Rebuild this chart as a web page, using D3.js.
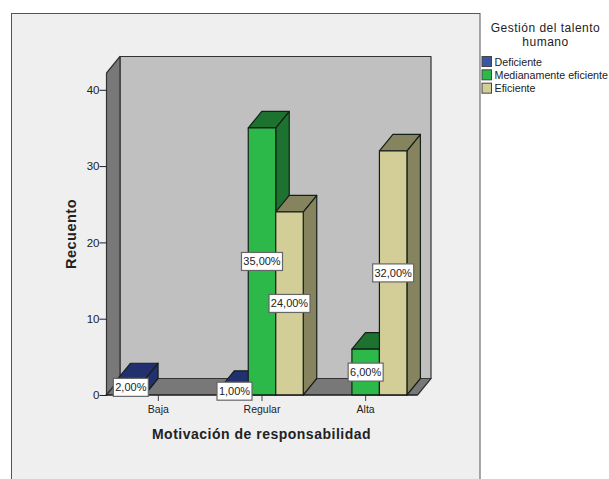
<!DOCTYPE html>
<html>
<head>
<meta charset="utf-8">
<script src="https://cdn.jsdelivr.net/npm/d3@7"></script>
<style>
    html, body { margin: 0; padding: 0; background: #fff; overflow: hidden; }
    svg { display: block; }
    text { font-family: "Liberation Sans", Arial, sans-serif; fill: #222; }
</style>
</head>
<body>
<div id="chart"></div>
<script>
const categories = ["Baja", "Regular", "Alta"];
const seriesNames = ["Deficiente", "Medianamente eficiente", "Eficiente"];
const deficiente = [2, 1, 0];
const medianamente = [0, 35, 6];
const eficiente = [0, 24, 32];
const seriesValues = [deficiente, medianamente, eficiente];
const yTicks = [0, 10, 20, 30, 40];

const frontColors = ["#2f4b9c", "#2db84a", "#d3ce97"];
const topColors = ["#22306f", "#1c722e", "#86835f"];
const sideColors = ["#22306f", "#1c722e", "#86835f"];
const legendColors = ["#3a55a6", "#2db84a", "#d3ce97"];

const wSvg = 609;
const hSvg = 479;

// plot box, depth is the offset of the back wall
const plot = { left: 106.5, right: 417.5, bottom: 395, top: 73 };
const depth = { x: 13.5, y: -16.5 };
const barWidth = 27.5;

const svg = d3.select("#chart").append("svg")
    .attr("width", wSvg)
    .attr("height", hSvg);

const yScale = d3.scaleLinear()
    .domain([0, 42.2])
    .range([plot.bottom, plot.top]);

const xScale = d3.scaleBand()
    .domain(categories)
    .range([plot.left, plot.right]);

const seriesScale = d3.scaleBand()
    .domain(seriesNames)
    .range([-barWidth * 1.5, barWidth * 1.5]);

const line = pts => "M" + pts.map(p => p.join(",")).join("L") + "Z";
const back = (x, y) => [x + depth.x, y + depth.y];

// outer panel
svg.append("rect")
    .attr("x", 11.5)
    .attr("y", 13.5)
    .attr("width", 468.5)
    .attr("height", 480)
    .attr("fill", "#efefef")
    .attr("stroke", "#555")
    .attr("stroke-width", 1);

// walls and floor
const walls = svg.append("g").attr("stroke", "#333").attr("stroke-width", 1.2).attr("stroke-linejoin", "round");

walls.append("path")
    .attr("d", line([back(plot.left, plot.top), back(plot.right, plot.top), back(plot.right, plot.bottom), back(plot.left, plot.bottom)]))
    .attr("fill", "#c0c0c0");

walls.append("path")
    .attr("d", line([[plot.left, plot.top], back(plot.left, plot.top), back(plot.left, plot.bottom), [plot.left, plot.bottom]]))
    .attr("fill", "#787878");

walls.append("path")
    .attr("d", line([[plot.left, plot.bottom], [plot.right, plot.bottom], back(plot.right, plot.bottom), back(plot.left, plot.bottom)]))
    .attr("fill", "#787878");

// bars, left to right so each front face covers the side of its neighbour
const bars = [];
categories.forEach((cat, c) => {
    seriesNames.forEach((name, s) => {
        const value = seriesValues[s][c];
        if (value > 0) {
            bars.push({ cat, name, s, value });
        }
    });
});

const barGroup = svg.append("g")
    .attr("stroke", "#15201a")
    .attr("stroke-width", 1.2)
    .attr("stroke-linejoin", "round");

bars.forEach(d => {
    const x0 = xScale(d.cat) + xScale.bandwidth() / 2 + seriesScale(d.name);
    const x1 = x0 + barWidth;
    const y0 = yScale(d.value);
    const y1 = yScale(0);
    d.cx = (x0 + x1) / 2;
    d.cy = (y0 + y1) / 2;

    barGroup.append("path")
        .attr("d", line([[x1, y0], back(x1, y0), back(x1, y1), [x1, y1]]))
        .attr("fill", sideColors[d.s]);
    barGroup.append("path")
        .attr("d", line([[x0, y0], back(x0, y0), back(x1, y0), [x1, y0]]))
        .attr("fill", topColors[d.s]);
    barGroup.append("path")
        .attr("d", line([[x0, y0], [x1, y0], [x1, y1], [x0, y1]]))
        .attr("fill", frontColors[d.s]);
});

// axes
const yAxis = svg.append("g")
    .attr("transform", `translate(${plot.left},0)`)
    .call(d3.axisLeft(yScale).tickValues(yTicks).tickSize(7).tickPadding(0));
yAxis.select(".domain").remove();
yAxis.selectAll("line").attr("stroke", "#222").attr("stroke-width", 1);
yAxis.selectAll("text").attr("font-size", 11.5).style("font-family", '"Liberation Sans", Arial, sans-serif').attr("fill", "#222");

const xAxis = svg.append("g")
    .attr("transform", `translate(0,${plot.bottom})`)
    .call(d3.axisBottom(xScale).tickSize(6).tickPadding(5));
xAxis.select(".domain").remove();
xAxis.selectAll("line").attr("stroke", "#444").attr("stroke-width", 1);
xAxis.selectAll("text").attr("font-size", 10.5).style("font-family", '"Liberation Sans", Arial, sans-serif').attr("fill", "#333");

svg.append("line")
    .attr("x1", plot.left - 1)
    .attr("x2", plot.right)
    .attr("y1", plot.bottom)
    .attr("y2", plot.bottom)
    .attr("stroke", "#111")
    .attr("stroke-width", 1.2);

// value labels
const labels = svg.append("g");
bars.forEach(d => {
    const w = d.value < 10 ? 35 : 41;
    labels.append("rect")
        .attr("x", d.cx - w / 2)
        .attr("y", d.cy - 9)
        .attr("width", w)
        .attr("height", 18)
        .attr("fill", "#fff")
        .attr("stroke", "#666")
        .attr("stroke-width", 1.2);
    labels.append("text")
        .attr("x", d.cx)
        .attr("y", d.cy + 4)
        .attr("text-anchor", "middle")
        .attr("font-size", 11)
        .text(d3.format(".2f")(d.value).replace(".", ",") + "%");
});

// axis titles
svg.append("text")
    .attr("transform", "translate(75.5,234) rotate(-90)")
    .attr("text-anchor", "middle")
    .attr("font-size", 14.5)
    .attr("font-weight", "bold")
    .attr("letter-spacing", 0.5)
    .attr("fill", "#111")
    .text("Recuento");

svg.append("text")
    .attr("x", 261.5)
    .attr("y", 438.5)
    .attr("text-anchor", "middle")
    .attr("font-size", 14)
    .attr("font-weight", "bold")
    .attr("letter-spacing", 0.5)
    .attr("fill", "#111")
    .text("Motivación de responsabilidad");

// legend
const legendTitle = svg.append("text")
    .attr("text-anchor", "middle")
    .attr("font-size", 12)
    .attr("letter-spacing", 0.5);
legendTitle.append("tspan").attr("x", 545.5).attr("y", 32).text("Gestión del talento");
legendTitle.append("tspan").attr("x", 545.5).attr("y", 45.5).text("humano");

const legendRow = d3.scaleBand()
    .domain(seriesNames)
    .range([55.5, 95.5]);

seriesNames.forEach((name, i) => {
    svg.append("rect")
        .attr("x", 482)
        .attr("y", legendRow(name) + 1)
        .attr("width", 9.5)
        .attr("height", 10)
        .attr("fill", legendColors[i])
        .attr("stroke", "#444")
        .attr("stroke-width", 1);
    svg.append("text")
        .attr("x", 494.5)
        .attr("y", legendRow(name) + 10)
        .attr("font-size", 10.7)
        .text(name);
});
</script>
</body>
</html>
